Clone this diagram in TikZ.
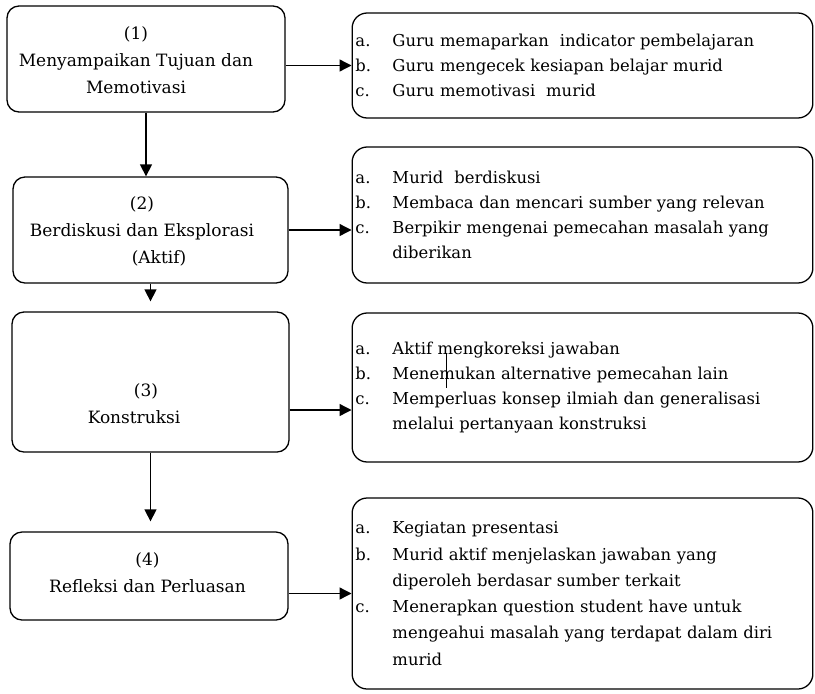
\documentclass[tikz,border=0pt]{standalone}
\usepackage{fontspec}
\setmainfont{DejaVu Serif}
\usetikzlibrary{arrows.meta}

\tikzset{
  lbox/.style={draw, line width=1.1pt, rounded corners=0.36cm},
  ltext/.style={align=center, inner sep=0pt, font=\fontsize{14.5}{23}\selectfont},
  rbox/.style={draw, line width=1.1pt, rounded corners=0.45cm, text width=13.62cm, align=left,
    inner xsep=0.1cm, font=\fontsize{14}{21.3}\selectfont},
  arr/.style={line width=1.1pt, -{Triangle[length=0.36cm,width=0.36cm]}}
}
\newcommand{\itm}[1]{\makebox[1.11cm][l]{#1}}
\newcommand{\cont}{\hspace*{1.11cm}}

\begin{document}
\begin{tikzpicture}[x=0.03cm,y=-0.03cm]
        \useasboundingbox (0,0) rectangle (815,693);
        % langkah
        \node[lbox, minimum width=8.34cm, minimum height=3.18cm] (b1) at (146,59) {};
        \node[lbox, minimum width=8.25cm, minimum height=3.18cm] (b2) at (150.5,230) {};
        \node[lbox, minimum width=8.31cm, minimum height=4.2cm] (b3) at (150.5,382) {};
        \node[lbox, minimum width=8.34cm, minimum height=2.64cm] (b4) at (149,576) {};
        \node[ltext] (t1) at (136,60) {(1)\\Menyampaikan Tujuan dan\\Memotivasi};
        \node[ltext] (t2) at (142,231) {(2)\\Berdiskusi dan Eksplorasi\\\hspace*{1.02cm}(Aktif)};
        \node[ltext] (t3) at (134,404) {\hspace*{0.72cm}(3)\\Konstruksi};
        \node[ltext] (t4) at (147.5,573) {(4)\\Refleksi dan Perluasan};
        % kegiatan
        \node[rbox, minimum height=3.15cm] (r1) at (582.5,65.5) {%
          \itm{a.}Guru memaparkan~ indicator pembelajaran\\
          \itm{b.}Guru mengecek kesiapan belajar murid\\
          \itm{c.}Guru memotivasi~ murid};
        \node[rbox, minimum height=4.08cm] (r2) at (582.5,215) {%
          \itm{a.}Murid~ berdiskusi\\
          \itm{b.}Membaca dan mencari sumber yang relevan\\
          \itm{c.}Berpikir mengenai pemecahan masalah yang\\
          \cont diberikan};
        \node[rbox, minimum height=4.47cm] (r3) at (582.5,387.5) {%
          \itm{a.}Aktif mengkoreksi jawaban\\
          \itm{b.}Menemukan alternative pemecahan lain\\
          \itm{c.}Memperluas konsep ilmiah dan generalisasi\\
          \cont melalui pertanyaan konstruksi};
        \node[rbox, minimum height=5.73cm, font=\fontsize{14}{22.4}\selectfont] (r4) at (582.5,593.5) {%
          \itm{a.}Kegiatan presentasi\\
          \itm{b.}Murid aktif menjelaskan jawaban yang\\
          \cont diperoleh berdasar sumber terkait\\
          \itm{c.}Menerapkan question student have untuk\\
          \cont mengeahui masalah yang terdapat dalam diri\\
          \cont murid};
        \draw[line width=0.6pt] (446,353) -- (446,388);
        % panah
        \draw[arr] (b1.south) -- (b1.south |- b2.north);
        \draw[arr, shorten >=0.3cm] (b2.south) -- (b2.south |- b3.north);
        \draw[arr, shorten >=0.3cm] (b3.south) -- (b3.south |- b4.north);
        \coordinate (k3) at ([yshift=-0.84cm]b3.east);
        \draw[arr] (b1.east |- r1.west) -- (r1.west);
        \draw[arr] (b2.east) -- (b2.east -| r2.west);
        \draw[arr] (k3) -- (k3 -| r3.west);
        \draw[arr] (b4.east |- r4.west) -- (r4.west);
\end{tikzpicture}
\end{document}
